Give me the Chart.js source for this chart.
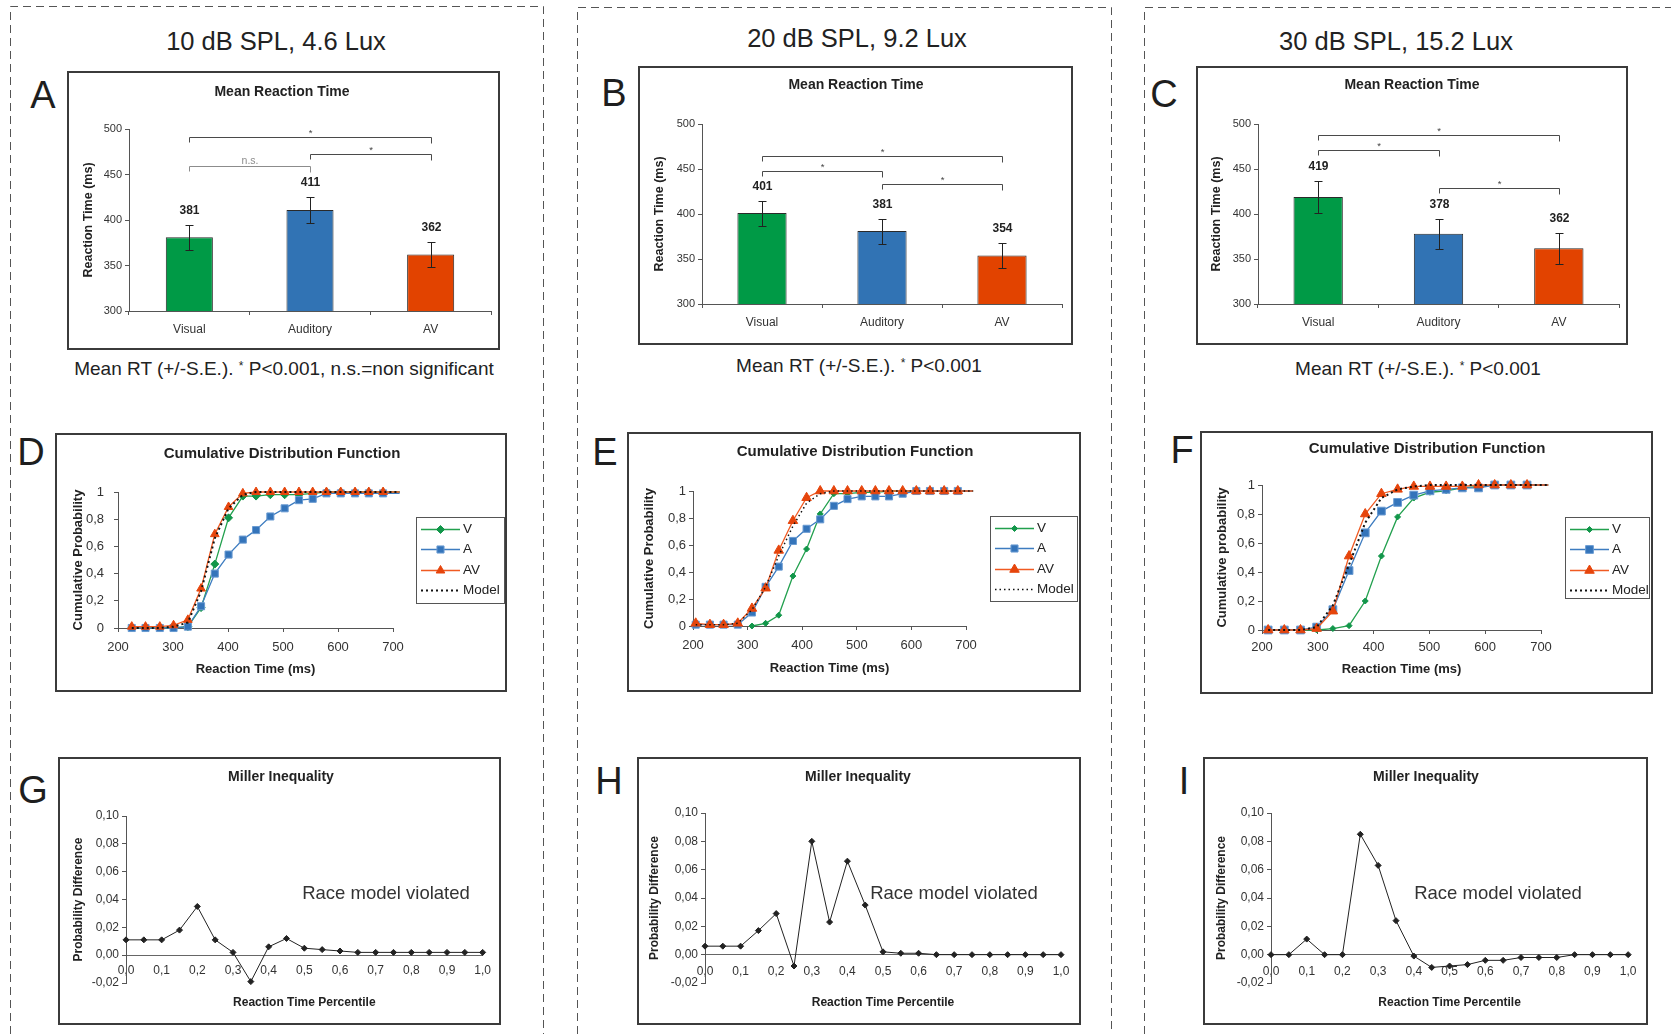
<!DOCTYPE html>
<html>
<head>
<meta charset="utf-8">
<title>Mean RT, CDF and Miller inequality</title>
<script src="https://cdn.jsdelivr.net/npm/chart.js@4.4.1/dist/chart.umd.min.js"></script>
<style>
  html, body { margin: 0; padding: 0; background: #fff; }
  body { position: relative; width: 1671px; height: 1034px; overflow: hidden;
         font-family: "Liberation Sans", Arial, Helvetica, sans-serif; color: #222; }
  svg.frame { position: absolute; left: 0; top: 0; }
  .panel { position: absolute; box-sizing: border-box; border: 2px solid #3b3b3b; background: #fff; }
  .panel canvas { display: block; }
  .t { position: absolute; transform: translate(-50%, -50%); white-space: nowrap; line-height: 1; }
  .head { font-size: 25.5px; }
  .letter { font-size: 38px; color: #1e1e1e; }
  .cap { font-size: 19px; }
  .cap span { font-size: 12px; vertical-align: 5px; }
  .ttl { font-size: 14px; font-weight: bold; }
  .ttl.big { font-size: 15px; }
  .race { font-size: 18.5px; color: #333; }
</style>
</head>
<body>
<svg class="frame" width="1671" height="1034">
  <g stroke="#555" stroke-width="1" stroke-dasharray="8 5" fill="none">
    <polyline points="10.5,1034 10.5,6.5 543.5,6.5 543.5,1034"/>
    <polyline points="577.5,1034 577.5,7.5 1111.5,7.5 1111.5,1034"/>
    <polyline points="1144.5,1034 1144.5,7.5 1671,7.5"/>
  </g>
</svg>

<div class="panel" id="pA"><canvas></canvas></div>
<div class="panel" id="pB"><canvas></canvas></div>
<div class="panel" id="pC"><canvas></canvas></div>
<div class="panel" id="pD"><canvas></canvas></div>
<div class="panel" id="pE"><canvas></canvas></div>
<div class="panel" id="pF"><canvas></canvas></div>
<div class="panel" id="pG"><canvas></canvas></div>
<div class="panel" id="pH"><canvas></canvas></div>
<div class="panel" id="pI"><canvas></canvas></div>

<div class="t head" style="left:276px;top:42px">10 dB SPL, 4.6 Lux</div>
<div class="t head" style="left:857px;top:39px">20 dB SPL, 9.2 Lux</div>
<div class="t head" style="left:1396px;top:42px">30 dB SPL, 15.2 Lux</div>

<div class="t letter" style="left:43px;top:95px">A</div>
<div class="t letter" style="left:614px;top:93px">B</div>
<div class="t letter" style="left:1164px;top:94px">C</div>
<div class="t letter" style="left:31px;top:452px">D</div>
<div class="t letter" style="left:605px;top:452px">E</div>
<div class="t letter" style="left:1182px;top:450px">F</div>
<div class="t letter" style="left:33px;top:790px">G</div>
<div class="t letter" style="left:609px;top:781px">H</div>
<div class="t letter" style="left:1184px;top:781px">I</div>

<div class="t ttl" style="left:282px;top:91px">Mean Reaction Time</div>
<div class="t ttl" style="left:856px;top:84px">Mean Reaction Time</div>
<div class="t ttl" style="left:1412px;top:84px">Mean Reaction Time</div>
<div class="t ttl big" style="left:282px;top:452px">Cumulative Distribution Function</div>
<div class="t ttl big" style="left:855px;top:450px">Cumulative Distribution Function</div>
<div class="t ttl big" style="left:1427px;top:447px">Cumulative Distribution Function</div>
<div class="t ttl" style="left:281px;top:776px">Miller Inequality</div>
<div class="t ttl" style="left:858px;top:776px">Miller Inequality</div>
<div class="t ttl" style="left:1426px;top:776px">Miller Inequality</div>

<div class="t cap" style="left:284px;top:368px">Mean RT (+/-S.E.). <span>*</span> P&lt;0.001, n.s.=non significant</div>
<div class="t cap" style="left:859px;top:365px">Mean RT (+/-S.E.). <span>*</span> P&lt;0.001</div>
<div class="t cap" style="left:1418px;top:368px">Mean RT (+/-S.E.). <span>*</span> P&lt;0.001</div>

<div class="t race" style="left:386px;top:893px">Race model violated</div>
<div class="t race" style="left:954px;top:893px">Race model violated</div>
<div class="t race" style="left:1498px;top:893px">Race model violated</div>

<script>
// ---------- values ----------
const conditions = ['Visual', 'Auditory', 'AV'];

const meanA = [381, 411, 362];
const seA = [14, 14, 14];
const meanB = [401, 381, 354];
const seB = [14, 14, 14];
const meanC = [419, 378, 362];
const seC = [17.5, 17, 17];

// significance brackets: [from, to, height in ms, mark]
const sigA = [[0, 2, 491, '*'], [1, 2, 472.5, '*'], [0, 1, 459, 'n.s.']];
const sigB = [[0, 2, 465, '*'], [0, 1, 448, '*'], [1, 2, 433, '*']];
const sigC = [[0, 2, 488, '*'], [0, 1, 471.5, '*'], [1, 2, 428.5, '*']];

// cumulative distributions: reaction time (ms) and probability
const rtD = [225, 250, 276, 301, 327, 351, 376, 401, 427, 451, 477, 503, 529, 554, 579, 605, 631, 656, 682, 712];
const visD = [0, 0, 0, 0, 0.01, 0.15, 0.47, 0.81, 0.97, 0.97, 0.98, 0.98, 0.98, 0.99, 1, 1, 1, 1, 1, 1];
const audD = [0, 0, 0, 0, 0.01, 0.16, 0.40, 0.54, 0.65, 0.72, 0.82, 0.88, 0.94, 0.95, 0.99, 0.99, 0.99, 0.99, 0.99, 0.99];
const avD = [0.01, 0.01, 0.01, 0.02, 0.06, 0.29, 0.69, 0.89, 0.99, 1, 1, 1, 1, 1, 1, 1, 1, 1, 1, 1];
const modelD = [0, 0, 0, 0.01, 0.04, 0.27, 0.66, 0.88, 0.98, 1, 1, 1, 1, 1, 1, 1, 1, 1, 1, 1];

const rtE = [205, 231, 256, 282, 308, 333, 357, 383, 408, 433, 458, 483, 509, 534, 559, 584, 609, 634, 660, 685, 713];
const visE = [null, null, null, null, 0, 0.02, 0.08, 0.37, 0.57, 0.83, 0.98, 0.98, 0.99, 0.99, 1, 1, 1, 1, 1, 1, 1];
const audE = [0.01, 0.01, 0.01, 0.01, 0.10, 0.29, 0.44, 0.63, 0.72, 0.79, 0.89, 0.94, 0.96, 0.96, 0.96, 0.98, 1, 1, 1, 1, 1];
const avE = [0.02, 0.01, 0.01, 0.02, 0.13, 0.28, 0.56, 0.78, 0.95, 1, 1, 1, 1, 1, 1, 1, 1, 1, 1, 1, 1];
const modelE = [0.01, 0.01, 0.01, 0.02, 0.12, 0.29, 0.52, 0.74, 0.91, 0.98, 1, 1, 1, 1, 1, 1, 1, 1, 1, 1, 1];

const rtF = [211, 240, 269, 298, 327, 356, 385, 414, 443, 472, 501, 530, 559, 588, 617, 646, 675, 713];
const visF = [0, 0, 0, 0, 0.01, 0.03, 0.20, 0.51, 0.78, 0.91, 0.95, 0.96, 0.98, 0.99, 1, 1, 1, 1];
const audF = [0, 0, 0, 0.02, 0.14, 0.41, 0.67, 0.82, 0.88, 0.93, 0.96, 0.97, 0.98, 0.98, 1, 1, 1, 1];
const avF = [0, 0, 0, 0.01, 0.13, 0.51, 0.80, 0.94, 0.97, 0.99, 0.99, 0.99, 0.99, 1, 1, 1, 1, 1];
const modelF = [0, 0, 0, 0.02, 0.17, 0.45, 0.74, 0.91, 0.97, 0.99, 1, 1, 1, 1, 1, 1, 1, 1];

// Miller inequality: percentile and probability difference
const percentile = [0, 0.05, 0.1, 0.15, 0.2, 0.25, 0.3, 0.35, 0.4, 0.45, 0.5, 0.55, 0.6, 0.65, 0.7, 0.75, 0.8, 0.85, 0.9, 0.95, 1];
const millerG = [0.011, 0.011, 0.011, 0.018, 0.035, 0.011, 0.002, -0.019, 0.006, 0.012, 0.005, 0.004, 0.003, 0.002, 0.002, 0.002, 0.002, 0.002, 0.002, 0.002, 0.002];
const millerH = [0.006, 0.006, 0.006, 0.017, 0.029, -0.008, 0.080, 0.023, 0.066, 0.035, 0.002, 0.001, 0.001, 0, 0, 0, 0, 0, 0, 0, 0];
const millerI = [0, 0, 0.011, 0, 0, 0.085, 0.063, 0.024, -0.001, -0.009, -0.008, -0.007, -0.004, -0.004, -0.002, -0.002, -0.002, 0, 0, 0, 0];

// ---------- styles ----------
const FONT = '"Liberation Sans", Arial, Helvetica, sans-serif';
Chart.defaults.font.family = FONT;
Chart.defaults.color = '#333';
Chart.defaults.animation = false;

const barColors = ['#009a46', '#3173b4', '#e24300'];
const visStyle = {label: 'V', line: '#22a04e', fill: '#12964a', edge: '#12964a', shape: 'rectRot'};
const audStyle = {label: 'A', line: '#3d7cc0', fill: '#3474ba', edge: '#6a9bd2', shape: 'rect'};
const avStyle = {label: 'AV', line: '#f05a22', fill: '#e6450c', edge: '#e6450c', shape: 'triangle'};

// ---------- small plugins ----------
const errorBars = {
    id: 'errorBars',
    afterDatasetsDraw(chart, args, opts) {
        const ctx = chart.ctx, y = chart.scales.y;
        const ds = chart.data.datasets[0];
        ctx.save();
        ctx.strokeStyle = '#222';
        ctx.lineWidth = 1;
        chart.getDatasetMeta(0).data.forEach((bar, i) => {
            const v = ds.data[i], e = opts.errors[i];
            const top = Math.round(y.getPixelForValue(v + e)) + 0.5;
            const bot = Math.round(y.getPixelForValue(v - e)) + 0.5;
            const x = Math.round(bar.x) + 0.5;
            ctx.beginPath();
            ctx.moveTo(x, top); ctx.lineTo(x, bot);
            ctx.moveTo(x - 4, top); ctx.lineTo(x + 4, top);
            ctx.moveTo(x - 4, bot); ctx.lineTo(x + 4, bot);
            ctx.stroke();
            ctx.fillStyle = '#222';
            ctx.font = 'bold 12px ' + FONT;
            ctx.textAlign = 'center';
            ctx.textBaseline = 'middle';
            ctx.fillText(String(v), x, top - 15);
        });
        ctx.restore();
    }
};

const brackets = {
    id: 'brackets',
    afterDatasetsDraw(chart, args, opts) {
        const ctx = chart.ctx, y = chart.scales.y;
        const bars = chart.getDatasetMeta(0).data;
        ctx.save();
        (opts.items || []).forEach(([a, b, v, mark]) => {
            const ns = mark === 'n.s.';
            const x1 = Math.round(bars[a].x) + 0.5, x2 = Math.round(bars[b].x) + 0.5;
            const py = Math.round(y.getPixelForValue(v)) + 0.5;
            ctx.strokeStyle = ns ? '#8c8c8c' : '#4a4a4a';
            ctx.lineWidth = 1;
            ctx.beginPath();
            ctx.moveTo(x1, py + 5); ctx.lineTo(x1, py); ctx.lineTo(x2, py); ctx.lineTo(x2, py + 6);
            ctx.stroke();
            ctx.fillStyle = ns ? '#8c8c8c' : '#444';
            ctx.textAlign = 'center';
            ctx.textBaseline = 'alphabetic';
            ctx.font = (ns ? '10.5px ' : '9.5px ') + FONT;
            ctx.fillText(mark, (x1 + x2) / 2, ns ? py - 3 : py - 2);
        });
        ctx.restore();
    }
};

function drawMarker(ctx, shape, x, y, r) {
    ctx.beginPath();
    if (shape === 'rect') {
        const s = r * Math.SQRT1_2;
        ctx.rect(x - s, y - s, 2 * s, 2 * s);
    } else if (shape === 'triangle') {
        ctx.moveTo(x, y - r);
        ctx.lineTo(x + r * 0.866, y + r / 2);
        ctx.lineTo(x - r * 0.866, y + r / 2);
        ctx.closePath();
    } else {
        ctx.moveTo(x - r, y); ctx.lineTo(x, y - r); ctx.lineTo(x + r, y); ctx.lineTo(x, y + r);
        ctx.closePath();
    }
    ctx.fill();
    ctx.stroke();
}

const boxLegend = {
    id: 'boxLegend',
    afterDraw(chart, args, opts) {
        const ctx = chart.ctx;
        const {x, y, w, h} = opts;
        ctx.save();
        ctx.strokeStyle = '#555';
        ctx.lineWidth = 1;
        ctx.strokeRect(Math.round(x) + 0.5, Math.round(y) + 0.5, w, h);
        chart.data.datasets.forEach((ds, i) => {
            const ry = Math.round(y + 12 + i * 20.3) + 0.5;
            ctx.beginPath();
            ctx.setLineDash(ds.borderDash || []);
            ctx.strokeStyle = ds.borderColor;
            ctx.lineWidth = ds.borderWidth;
            ctx.moveTo(x + 5, ry); ctx.lineTo(x + 44, ry);
            ctx.stroke();
            ctx.setLineDash([]);
            if (ds.legendRadius) {
                ctx.fillStyle = ds.pointBackgroundColor;
                ctx.strokeStyle = ds.pointBorderColor;
                ctx.lineWidth = 1;
                drawMarker(ctx, ds.pointStyle, x + 24.5, ry, ds.legendRadius);
            }
            ctx.fillStyle = '#222';
            ctx.font = '13.5px ' + FONT;
            ctx.textAlign = 'left';
            ctx.textBaseline = 'middle';
            ctx.fillText(ds.label, x + 47, ry);
        });
        ctx.restore();
    }
};

// ---------- helpers ----------
// box: outer frame [x0, y0, x1, y1]; plot: plot area [left, top, right, bottom], page pixels
function setupPanel(id, box, plot) {
    const el = document.getElementById(id);
    const [x0, y0, x1, y1] = box;
    Object.assign(el.style, {left: x0 + 'px', top: y0 + 'px', width: (x1 - x0) + 'px', height: (y1 - y0) + 'px'});
    const ox = x0 + 2, oy = y0 + 2, w = x1 - x0 - 4, h = y1 - y0 - 4;
    const canvas = el.querySelector('canvas');
    canvas.width = w; canvas.height = h;
    canvas.style.width = w + 'px'; canvas.style.height = h + 'px';
    return {canvas, ox, oy, w, h,
        left: plot[0] - ox, top: plot[1] - oy, right: w - (plot[2] - ox), bottom: h - (plot[3] - oy)};
}

function axisStyle(color) {
    return {grid: {drawOnChartArea: false, tickLength: 4, color: color}, border: {color: color}};
}

function barChart(id, box, plot, means, errs, sig, barPct, yTitleX) {
    const p = setupPanel(id, box, plot);
    return new Chart(p.canvas, {
        type: 'bar',
        data: {
            labels: conditions,
            datasets: [{
                data: means,
                backgroundColor: barColors,
                borderColor: '#2a2a2a',
                borderWidth: 1,
                barPercentage: barPct,
                categoryPercentage: 1
            }]
        },
        options: {
            responsive: false,
            animation: false,
            layout: {padding: {left: 0, top: p.top, right: p.right, bottom: 0}},
            plugins: {legend: {display: false}, tooltip: {enabled: false},
                errorBars: {errors: errs}, brackets: {items: sig}},
            scales: {
                x: Object.assign(axisStyle('#555'), {
                    ticks: {font: {size: 12}, padding: 7},
                    afterFit: s => { s.height = p.bottom; }
                }),
                y: Object.assign(axisStyle('#555'), {
                    min: 300, max: 500,
                    ticks: {stepSize: 50, font: {size: 11}, padding: 3},
                    title: {display: true, text: 'Reaction Time (ms)', color: '#222',
                        font: {size: 12.5, weight: 'bold'}, padding: {top: yTitleX - p.ox - 7.5, bottom: 0}},
                    afterFit: s => { s.width = p.left; }
                })
            }
        },
        plugins: [errorBars, brackets]
    });
}

function curve(style, xs, ys, r, order) {
    return {
        label: style.label,
        data: xs.map((x, i) => ({x: x, y: ys[i]})),
        borderColor: style.line,
        backgroundColor: style.fill,
        pointStyle: style.shape,
        pointBackgroundColor: style.fill,
        pointBorderColor: style.edge,
        pointBorderWidth: 1,
        pointRadius: c => (c.raw && c.raw.x > 700 ? 0 : r),
        legendRadius: r,
        borderWidth: 1.3,
        order: order,
        clip: false
    };
}

function modelCurve(xs, ys, dash, width) {
    return {
        label: 'Model',
        data: xs.map((x, i) => ({x: x, y: ys[i]})),
        borderColor: '#111',
        borderDash: dash,
        borderWidth: width,
        pointRadius: 0,
        legendRadius: 0,
        order: 0,
        clip: false
    };
}

function probLabel(v) {
    return (v === 0 || v === 1) ? String(v) : v.toFixed(1).replace('.', ',');
}

function cdfChart(id, box, plot, datasets, o) {
    const p = setupPanel(id, box, plot);
    return new Chart(p.canvas, {
        type: 'line',
        data: {datasets: datasets},
        options: {
            responsive: false,
            animation: false,
            layout: {padding: {left: 0, top: p.top, right: p.right, bottom: 0}},
            plugins: {legend: {display: false}, tooltip: {enabled: false},
                boxLegend: {x: o.legend[0] - p.ox, y: o.legend[1] - p.oy, w: o.legend[2], h: o.legend[3]}},
            scales: {
                x: Object.assign(axisStyle('#555'), {
                    type: 'linear', min: 200, max: 700,
                    ticks: {stepSize: 100, font: {size: 13}, padding: o.xPad},
                    title: {display: true, text: 'Reaction Time (ms)', color: '#222',
                        font: {size: 13, weight: 'bold'}, padding: {top: 0, bottom: p.h - (o.xTitleY - p.oy) - 7.8}},
                    afterFit: s => { s.height = p.bottom; }
                }),
                y: Object.assign(axisStyle('#555'), {
                    min: 0, max: 1,
                    ticks: {stepSize: 0.2, font: {size: 13}, padding: o.yPad, callback: probLabel},
                    title: {display: true, text: o.yTitle, color: '#222',
                        font: {size: 13, weight: 'bold'}, padding: {top: o.yTitleX - p.ox - 7.8, bottom: 0}},
                    afterFit: s => { s.width = p.left; }
                })
            }
        },
        plugins: [boxLegend]
    });
}

function millerChart(id, box, plot, diffs, yTitleX, xPad) {
    const p = setupPanel(id, box, plot);
    const zeroY = plot[3] - (plot[3] - plot[1]) / 6;   // page y of 0,00
    const titleH = 1003 - zeroY + 7.2;
    return new Chart(p.canvas, {
        type: 'line',
        data: {
            datasets: [{
                data: percentile.map((x, i) => ({x: x, y: diffs[i]})),
                borderColor: '#222',
                borderWidth: 1,
                pointStyle: 'rectRot',
                pointRadius: 3,
                pointBackgroundColor: '#222',
                pointBorderColor: '#222',
                clip: false
            }]
        },
        options: {
            responsive: false,
            animation: false,
            layout: {padding: {left: 0, top: p.top, right: p.right, bottom: p.bottom}},
            plugins: {legend: {display: false}, tooltip: {enabled: false}},
            scales: {
                x: {
                    type: 'linear', position: {y: 0}, min: 0, max: 1,
                    grid: {display: false, drawTicks: false},
                    border: {color: '#666'},
                    ticks: {stepSize: 0.1, font: {size: 12}, padding: xPad,
                        callback: v => v.toFixed(1).replace('.', ',')},
                    title: {display: true, text: 'Reaction Time Percentile', color: '#222',
                        font: {size: 12, weight: 'bold'}, padding: 0},
                    afterFit: s => { s.height = titleH; }
                },
                y: Object.assign(axisStyle('#555'), {
                    min: -0.02, max: 0.1,
                    ticks: {stepSize: 0.02, font: {size: 12}, padding: 3,
                        callback: v => v.toFixed(2).replace('.', ',')},
                    title: {display: true, text: 'Probability Difference', color: '#222',
                        font: {size: 12, weight: 'bold'}, padding: {top: yTitleX - p.ox - 7.2, bottom: 0}},
                    afterFit: s => { s.width = p.left; }
                })
            }
        }
    });
}

// ---------- top row: mean reaction time ----------
barChart('pA', [67, 71, 500, 350], [129, 129, 491, 311], meanA, seA, sigA, 0.39, 89);
barChart('pB', [638, 66, 1073, 345], [702, 124, 1062, 304], meanB, seB, sigB, 0.41, 660);
barChart('pC', [1196, 66, 1628, 345], [1258, 124, 1619, 304], meanC, seC, sigC, 0.41, 1217);

// ---------- middle row: cumulative distributions ----------
cdfChart('pD', [55, 433, 507, 692], [118, 492, 393, 628], [
    curve(visStyle, rtD, visD, 4, 3),
    curve(audStyle, rtD, audD, 5, 2),
    curve(avStyle, rtD, avD, 5, 1),
    modelCurve(rtD, modelD, [2, 3], 2)
], {legend: [416, 517, 88, 86], xPad: 8, yPad: 10, xTitleY: 669, yTitleX: 78, yTitle: 'Cumulative Probability'});

cdfChart('pE', [627, 432, 1081, 692], [693, 491, 966, 626], [
    curve(visStyle, rtE, visE, 3, 3),
    curve(audStyle, rtE, audE, 5, 2),
    curve(avStyle, rtE, avE, 5.5, 1),
    modelCurve(rtE, modelE, [1.5, 3], 1.5)
], {legend: [990, 516, 87, 85], xPad: 8, yPad: 3, xTitleY: 668, yTitleX: 649, yTitle: 'Cumulative Probability'});

cdfChart('pF', [1200, 431, 1653, 694], [1262, 485, 1541, 630], [
    curve(visStyle, rtF, visF, 3, 3),
    curve(audStyle, rtF, audF, 5.5, 2),
    curve(avStyle, rtF, avF, 5.5, 1),
    modelCurve(rtF, modelF, [2, 3], 2)
], {legend: [1565, 517, 84, 81], xPad: 6, yPad: 3, xTitleY: 669, yTitleX: 1222, yTitle: 'Cumulative probability'});

// ---------- bottom row: Miller inequality ----------
millerChart('pG', [58, 757, 501, 1025], [126, 816, 484, 983], millerG, 79, 8);
millerChart('pH', [637, 757, 1081, 1025], [705, 813, 1061, 983], millerH, 655, 9.5);
millerChart('pI', [1203, 757, 1648, 1025], [1271, 813, 1629, 983], millerI, 1222, 9.5);
</script>
</body>
</html>
